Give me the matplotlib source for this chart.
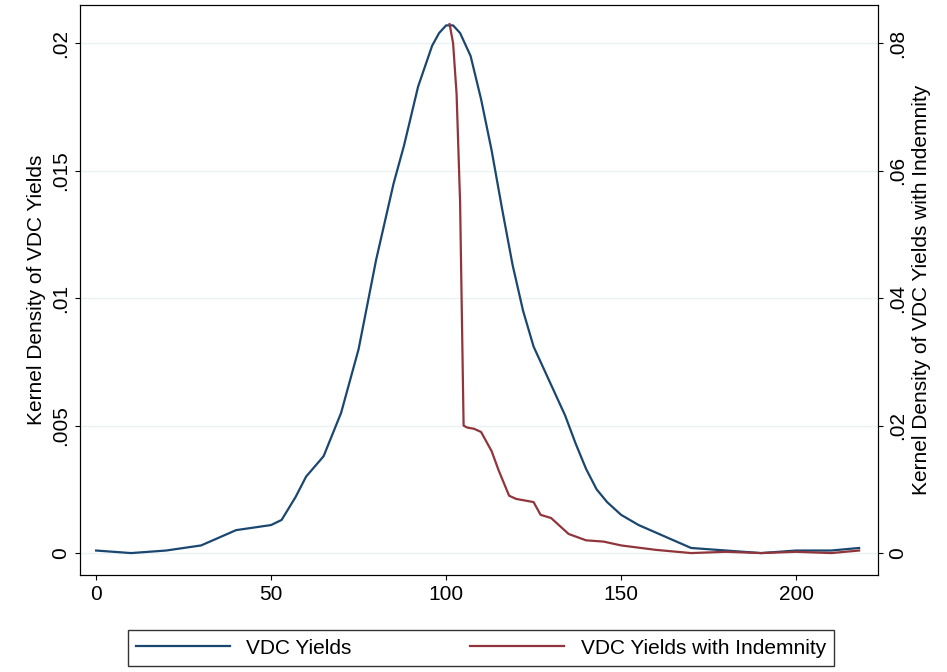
import matplotlib.pyplot as plt

plt.rcParams['font.family'] = ['Liberation Sans', 'DejaVu Sans']

# data
vdc_x = [0, 10, 20, 30, 40, 50, 53, 57, 60, 65, 70, 75, 80, 85, 88, 92, 96, 98, 100, 102, 104,
         107, 110, 113, 116, 119, 122, 125, 128, 131, 134, 137, 140, 143, 146, 150, 155, 160,
         165, 170, 180, 190, 200, 210, 218]
vdc_y = [0.0001, 0.0, 0.0001, 0.0003, 0.0009, 0.0011, 0.0013, 0.0022, 0.003, 0.0038, 0.0055,
         0.008, 0.0115, 0.0145, 0.016, 0.0183, 0.0199, 0.0204, 0.0207, 0.0207, 0.0204,
         0.0195, 0.0178, 0.0158, 0.0135, 0.0113, 0.0095, 0.0081, 0.0072, 0.0063, 0.0054,
         0.0043, 0.0033, 0.0025, 0.002, 0.0015, 0.0011, 0.0008, 0.0005, 0.0002, 0.0001,
         0.0, 0.0001, 0.0001, 0.0002]
ind_x = [101, 102, 103, 104, 105, 106, 108, 110, 113, 115, 118, 120, 125, 127, 130, 135, 140,
         145, 150, 160, 170, 180, 190, 200, 210, 218]
ind_y = [0.083, 0.080, 0.072, 0.055, 0.020, 0.0197, 0.0195, 0.019, 0.016, 0.013, 0.009, 0.0085,
         0.008, 0.006, 0.0055, 0.003, 0.002, 0.0018, 0.0012, 0.0005, 0.0, 0.0002, 0.0, 0.0002,
         0.0, 0.0004]

fig = plt.figure(figsize=(9.47, 6.72), dpi=100)
ax = fig.add_axes([80/947, 97/672, 798/947, 570/672])
ax2 = ax.twinx()

l1, = ax.plot(vdc_x, vdc_y, color='#1a476f', lw=1.6)
l2, = ax2.plot(ind_x, ind_y, color='#90353b', lw=1.6)

ax.set_xlim(-4.6, 223.4)
ax.set_ylim(-0.00086, 0.0215)
ax2.set_ylim(-0.00086*4, 0.0215*4)
ax.set_xticks([0, 50, 100, 150, 200])
ax.set_yticks([0, 0.005, 0.01, 0.015, 0.02])
ax.set_yticklabels(['0', '.005', '.01', '.015', '.02'], rotation=90, va='center')
ax2.set_yticks([0, 0.02, 0.04, 0.06, 0.08])
ax2.set_yticklabels(['0', '.02', '.04', '.06', '.08'], rotation=90, va='center')
ax.tick_params(labelsize=15)
ax2.tick_params(labelsize=15)
ax.grid(axis='y', color='#eaf2f3', lw=1)
ax.set_axisbelow(True)
ax.set_ylabel('Kernel Density of VDC Yields', fontsize=15)
ax2.set_ylabel('Kernel Density of VDC Yields with Indemnity', fontsize=15)

fig.legend([l1, l2], ['VDC Yields', 'VDC Yields with Indemnity'], loc='center',
           bbox_to_anchor=(481/947, 1 - 648/672), ncol=2, fontsize=15, frameon=True,
           fancybox=False, edgecolor='black', handlelength=4.5, columnspacing=5.7)

fig.savefig('out.png')
